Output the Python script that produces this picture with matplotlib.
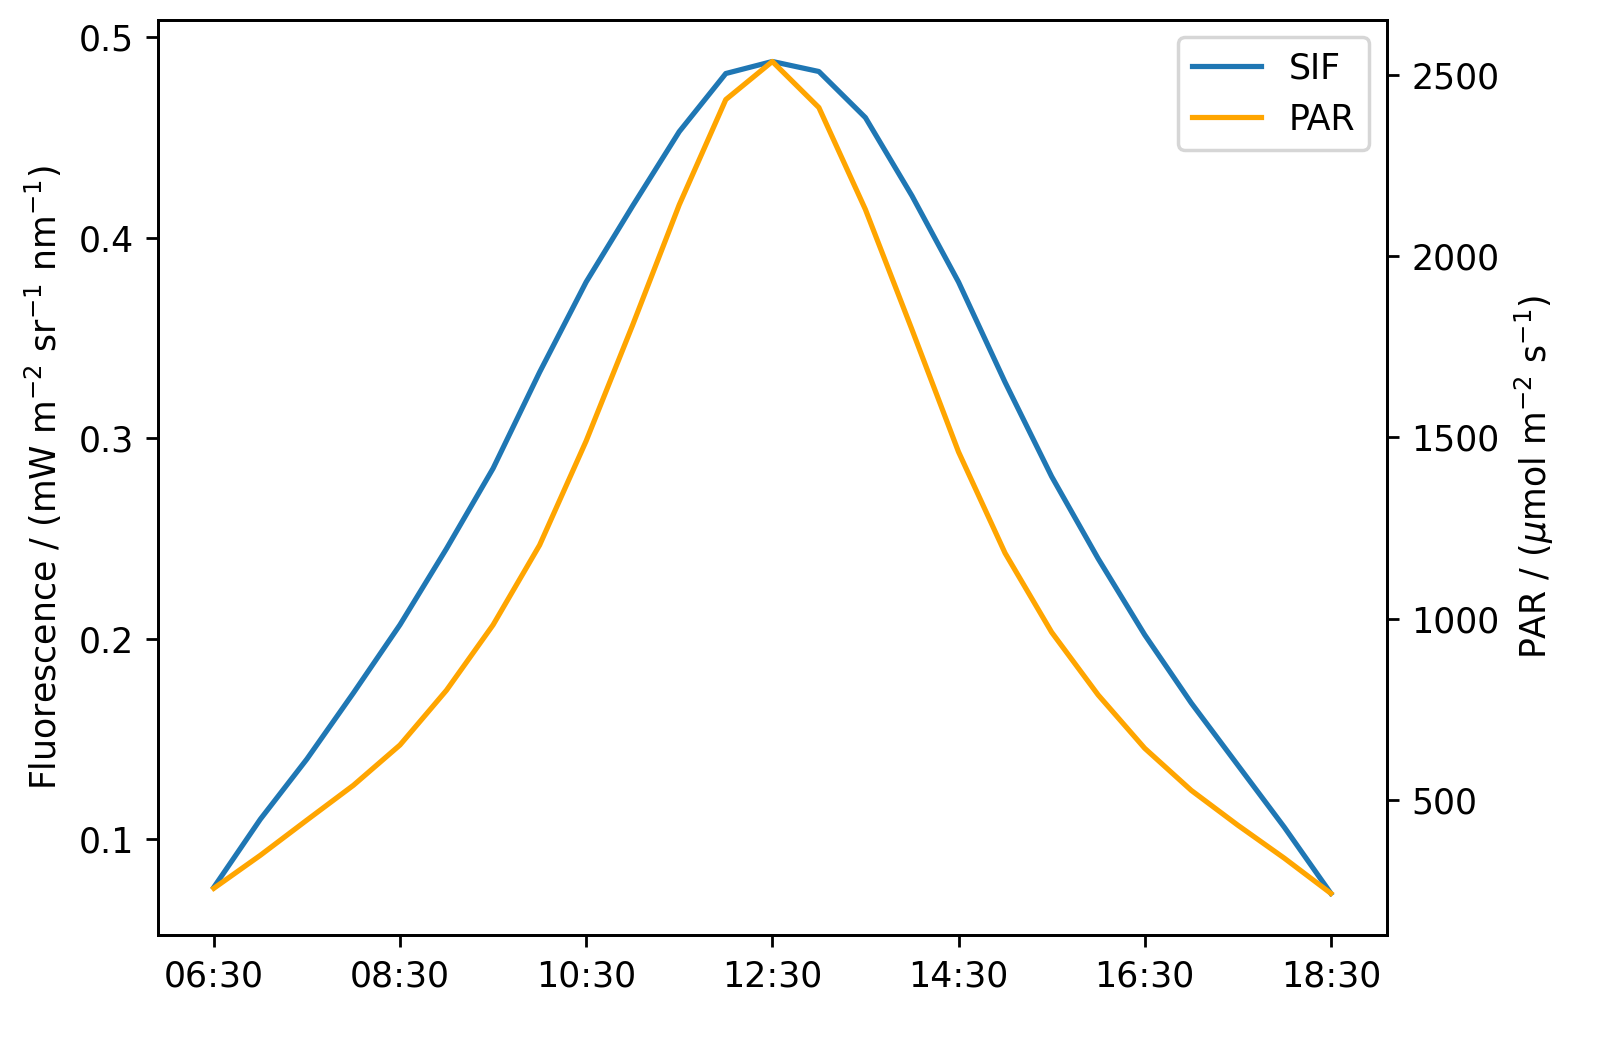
import matplotlib
matplotlib.use('Agg')
import matplotlib.pyplot as plt
import matplotlib.ticker as ticker

times = ['06:30', '07:00', '07:30', '08:00', '08:30', '09:00', '09:30', '10:00', '10:30',
         '11:00', '11:30', '12:00', '12:30', '13:00', '13:30', '14:00', '14:30', '15:00',
         '15:30', '16:00', '16:30', '17:00', '17:30', '18:00', '18:30']
sif = [0.076, 0.11, 0.14, 0.173, 0.207, 0.245, 0.285, 0.333, 0.378, 0.416, 0.453, 0.482,
       0.488, 0.483, 0.460, 0.421, 0.378, 0.328, 0.281, 0.240, 0.202, 0.168, 0.137, 0.106, 0.073]
par = [257, 348, 445, 541, 652, 803, 983, 1203, 1490, 1810, 2141, 2431, 2536, 2409, 2128,
       1797, 1460, 1181, 963, 790, 643, 527, 431, 340, 243]

hours = [int(t[:2]) + int(t[3:]) / 60 for t in times]

fig, ax = plt.subplots(figsize=(6.48, 4.188), dpi=250)
l1, = ax.plot(hours, sif, color='tab:blue', label='SIF')
ax.set_ylabel('Fluorescence / (mW m$^{-2}$ sr$^{-1}$ nm$^{-1}$)')
ax2 = ax.twinx()
l2, = ax2.plot(hours, par, color='orange', label='PAR')
ax2.set_ylabel('PAR / ($\\mu$mol m$^{-2}$ s$^{-1}$)')

ax.set_xticks(hours[::4])
ax.xaxis.set_major_formatter(ticker.FuncFormatter(
    lambda v, p: '{:02d}:{:02d}'.format(int(v), int(round((v % 1) * 60)))))
ax2.legend(handles=[l1, l2], loc='upper right')

plt.subplots_adjust(left=0.0975, right=0.856, top=0.981, bottom=0.107)
fig.savefig('out.png')
